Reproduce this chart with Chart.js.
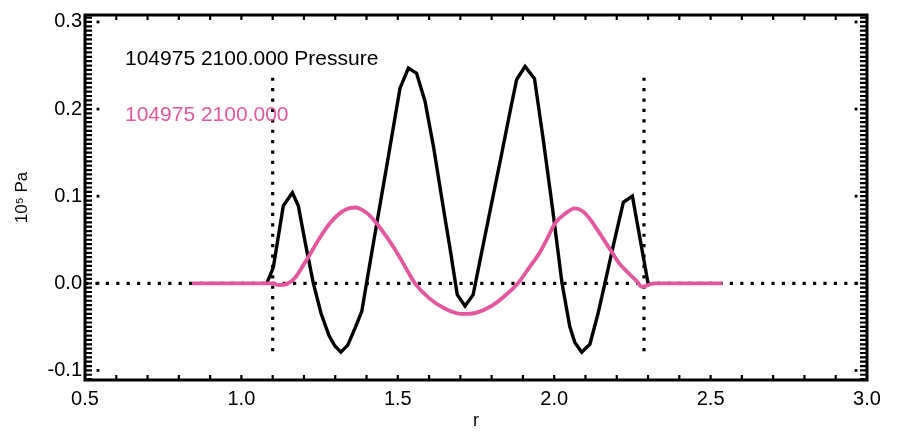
<!DOCTYPE html>
<html>
<head>
<meta charset="utf-8">
<script src="https://cdn.jsdelivr.net/npm/chart.js@4/dist/chart.umd.min.js"></script>
<style>
  body { margin: 0; background: #fff; }
</style>
</head>
<body>
<canvas id="profile" width="900" height="432"></canvas>
<script>
// black curve: pressure perturbation vs r
const pressR = [1.081, 1.102, 1.134, 1.163, 1.182, 1.205, 1.23, 1.255, 1.28, 1.299, 1.318, 1.34, 1.365, 1.385, 1.40,
    1.43, 1.46, 1.49, 1.507, 1.534, 1.56, 1.587, 1.615, 1.645, 1.667, 1.69, 1.715, 1.741, 1.77, 1.80, 1.83, 1.86,
    1.88, 1.907, 1.937, 1.965, 1.995, 2.025, 2.05, 2.066, 2.088, 2.114, 2.14, 2.162, 2.19, 2.221, 2.25, 2.275, 2.30];
const pressP = [0.000, 0.018, 0.089, 0.104, 0.089, 0.045, 0.000, -0.035, -0.060, -0.072, -0.079, -0.071, -0.050, -0.032, 0.000,
    0.063, 0.125, 0.188, 0.224, 0.247, 0.241, 0.209, 0.155, 0.088, 0.040, -0.013, -0.026, -0.013, 0.039, 0.092, 0.145, 0.199,
    0.234, 0.249, 0.235, 0.165, 0.085, 0.000, -0.050, -0.068, -0.079, -0.070, -0.035, 0.000, 0.045, 0.093, 0.100, 0.050, 0.000];

// pink curve
const shotR = [0.842, 1.00, 1.10, 1.12, 1.145, 1.171, 1.20, 1.219, 1.25, 1.283, 1.31, 1.335, 1.363, 1.40, 1.432, 1.465,
    1.496, 1.525, 1.555, 1.60, 1.65, 1.70, 1.724, 1.75, 1.80, 1.85, 1.884, 1.92, 1.955, 1.98, 2.003, 2.035, 2.066, 2.09,
    2.114, 2.135, 2.157, 2.184, 2.21, 2.242, 2.265, 2.28, 2.30, 2.32, 2.536];
const shotP = [0, 0, 0, -0.002, -0.001, 0.006, 0.022, 0.033, 0.052, 0.069, 0.079, 0.085, 0.087, 0.081, 0.069, 0.053,
    0.036, 0.018, 0.000, -0.017, -0.029, -0.035, -0.035, -0.034, -0.026, -0.012, 0.000, 0.018, 0.036, 0.053, 0.069, 0.080, 0.086, 0.083,
    0.074, 0.063, 0.051, 0.036, 0.022, 0.010, 0.002, -0.004, -0.002, 0, 0];

const seriesLabels = ['104975 2100.000 Pressure', '104975 2100.000'];
const xTicks = [0.5, 1.0, 1.5, 2.0, 2.5, 3.0];
const yTicks = [-0.1, 0.0, 0.1, 0.2, 0.3];

// dotted guides
const zeroLineR = [0.5, 3.0];
const edgeR = [1.1, 2.287];
const edgeP = [-0.078, 0.24];
const dotColR = [0.5416, 2.965];

const PINK = '#e4579f';
const FONT = "'Liberation Sans', Arial, sans-serif";

const toPts = (xs, ys) => xs.map((x, i) => ({ x: x, y: ys[i] }));

const dotted = (data, ord) => ({
    data: data,
    borderColor: '#000',
    borderWidth: 3.2,
    borderDash: [3.2, 7.2],
    borderCapStyle: 'butt',
    pointRadius: 0,
    order: ord
});

const innerDots = [];
dotColR.forEach(r => yTicks.forEach(v => innerDots.push({ x: r, y: v })));

// frame with inward ticks, plus the text labels in the plot
const framePlugin = {
    id: 'frame',
    afterDatasetsDraw(chart) {
        const { ctx, chartArea: a, scales } = chart;
        const xs = scales.x, ys = scales.y;
        ctx.save();
        ctx.strokeStyle = '#000';
        ctx.lineWidth = 2.2;
        for (let k = 5; k <= 30; k++) {
            const px = xs.getPixelForValue(k / 10);
            ctx.beginPath();
            ctx.moveTo(px, a.bottom); ctx.lineTo(px, a.bottom - 5);
            ctx.moveTo(px, a.top); ctx.lineTo(px, a.top + 5);
            ctx.stroke();
        }
        for (let k = -22; k <= 61; k++) {
            const py = ys.getPixelForValue(k * 0.005);
            ctx.beginPath();
            ctx.moveTo(a.left, py); ctx.lineTo(a.left + 7, py);
            ctx.moveTo(a.right, py); ctx.lineTo(a.right - 7, py);
            ctx.stroke();
        }
        ctx.lineWidth = 3;
        ctx.strokeRect(a.left, a.top, a.right - a.left, a.bottom - a.top);

        ctx.font = '21px ' + FONT;
        ctx.textBaseline = 'alphabetic';
        ctx.fillStyle = '#000';
        ctx.fillText(seriesLabels[0], 125, 65);
        ctx.fillStyle = PINK;
        ctx.fillText(seriesLabels[1], 125, 121);
        ctx.restore();
    }
};

new Chart(document.getElementById('profile'), {
    type: 'line',
    data: {
        datasets: [
            {
                label: seriesLabels[1],
                data: toPts(shotR, shotP),
                borderColor: PINK,
                borderWidth: 3.8,
                pointRadius: 0,
                cubicInterpolationMode: 'monotone',
                order: 0
            },
            {
                label: seriesLabels[0],
                data: toPts(pressR, pressP),
                borderColor: '#000',
                borderWidth: 3.4,
                pointRadius: 0,
                tension: 0,
                order: 1
            },
            dotted(zeroLineR.map(r => ({ x: r, y: 0 })), 2),
            dotted(edgeP.map(p => ({ x: edgeR[0], y: p })), 3),
            dotted(edgeP.map(p => ({ x: edgeR[1], y: p })), 4),
            {
                data: innerDots,
                showLine: false,
                pointStyle: 'rect',
                pointRadius: 2,
                backgroundColor: '#000',
                borderWidth: 0,
                order: 5
            }
        ]
    },
    options: {
        responsive: false,
        animation: false,
        layout: { padding: { top: 11, right: 33, left: 0, bottom: 0 } },
        plugins: { legend: { display: false }, tooltip: { enabled: false } },
        scales: {
            x: {
                type: 'linear',
                min: 0.5,
                max: 3.0,
                afterFit: s => { s.height = 52; },
                afterBuildTicks: s => { s.ticks = xTicks.map(v => ({ value: v })); },
                grid: { display: false, drawTicks: false },
                border: { display: false },
                ticks: {
                    padding: 7,
                    color: '#000',
                    font: { family: FONT, size: 20 },
                    callback: v => v.toFixed(1)
                },
                title: {
                    display: true,
                    text: 'r',
                    color: '#000',
                    font: { family: FONT, size: 18 },
                    padding: { top: 0, bottom: 0 }
                }
            },
            y: {
                min: -0.111,
                max: 0.308,
                afterFit: s => { s.width = 85; },
                afterBuildTicks: s => { s.ticks = yTicks.map(v => ({ value: v })); },
                grid: { display: false, drawTicks: false },
                border: { display: false },
                ticks: {
                    padding: 3,
                    color: '#000',
                    font: { family: FONT, size: 20 },
                    callback: v => v.toFixed(1)
                },
                title: {
                    display: true,
                    text: '10\u2075 Pa',
                    color: '#000',
                    font: { family: FONT, size: 17 },
                    padding: { top: 12, bottom: 0 }
                }
            }
        }
    },
    plugins: [framePlugin]
});
</script>
</body>
</html>
